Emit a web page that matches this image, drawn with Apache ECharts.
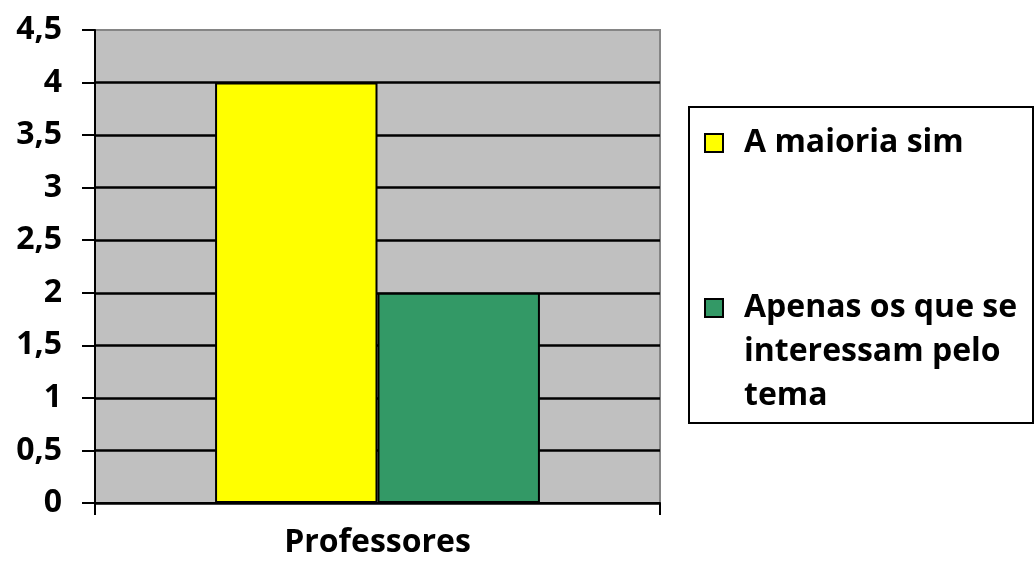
<!DOCTYPE html>
<html>
<head>
<meta charset="utf-8">
<script src="https://cdn.jsdelivr.net/npm/echarts@6/dist/echarts.min.js"></script>
<style>
  html, body { margin: 0; padding: 0; background: #fff; }
  #chart { width: 1035px; height: 579px; }
</style>
</head>
<body>
<div id="chart"></div>
<script>
// Survey answers for the "Professores" group
const categories = ['Professores'];
const seriesNames = ['A maioria sim', 'Apenas os que se interessam pelo tema'];
const maioriaSim = [4];
const apenasInteressados = [2];
const legendLabels = ['A maioria sim', 'Apenas os que se\ninteressam pelo\ntema'];

const FONT = 'Open Sans';
const chart = echarts.init(document.getElementById('chart'), null, { renderer: 'canvas' });

// Legend text is centred on its swatch; two empty leading lines keep the
// swatch level with the first line of a three-line label.
function legendText(name) {
  const label = legendLabels[seriesNames.indexOf(name)];
  const lines = label.split('\n').length;
  return '\n'.repeat(lines - 1) + label;
}

// shared legend look; each entry gets its own legend block inside one frame
function legendBlock(idx, top) {
  return {
    orient: 'vertical',
    left: 704, top: top,
    padding: 0,
    itemWidth: 18, itemHeight: 18,
    icon: 'rect',
    itemStyle: { borderColor: '#000', borderWidth: 2 },
    textStyle: {
      fontFamily: FONT, fontWeight: 'bold', fontSize: 32, color: '#000',
      lineHeight: 44, padding: [0, 0, 0, 16]
    },
    formatter: legendText,
    data: [seriesNames[idx]]
  };
}

chart.setOption({
  animation: false,
  backgroundColor: '#ffffff',
  grid: {
    left: 95, right: 375, top: 30, bottom: 76,
    show: true,
    backgroundColor: '#c0c0c0',
    borderColor: '#858585',
    borderWidth: 2
  },
  graphic: [{
    type: 'rect', z: 1,
    shape: { x: 689, y: 107, width: 344, height: 316 },
    style: { fill: '#ffffff', stroke: '#000000', lineWidth: 2 }
  }],
  legend: [
    legendBlock(0, 121),
    legendBlock(1, 198)
  ],
  xAxis: {
    type: 'category',
    data: categories,
    axisLine: { show: true, lineStyle: { color: '#000', width: 2 } },
    axisTick: { show: true, length: 12, lineStyle: { color: '#000', width: 2 } },
    axisLabel: {
      margin: 24, color: '#000',
      fontFamily: FONT, fontWeight: 'bold', fontSize: 32
    },
    splitLine: { show: false }
  },
  yAxis: {
    type: 'value',
    min: 0, max: 4.5, interval: 0.5,
    axisLine: { show: true, lineStyle: { color: '#000', width: 2 } },
    axisTick: { show: true, length: 13, lineStyle: { color: '#000', width: 2 } },
    axisLabel: {
      margin: 33, color: '#000',
      fontFamily: FONT, fontWeight: 'bold', fontSize: 32,
      formatter: function (v) { return String(v).replace('.', ','); }
    },
    splitLine: { show: true, showMaxLine: false, lineStyle: { color: '#000', width: 2.5 } }
  },
  series: [
    {
      name: seriesNames[0], type: 'bar', data: maioriaSim,
      barGap: '0%', barCategoryGap: '42.5%',
      itemStyle: { color: '#ffff00', borderColor: '#000', borderWidth: 2 }
    },
    {
      name: seriesNames[1], type: 'bar', data: apenasInteressados,
      barGap: '0%', barCategoryGap: '42.5%',
      itemStyle: { color: '#339966', borderColor: '#000', borderWidth: 2 }
    }
  ]
});
</script>
</body>
</html>
